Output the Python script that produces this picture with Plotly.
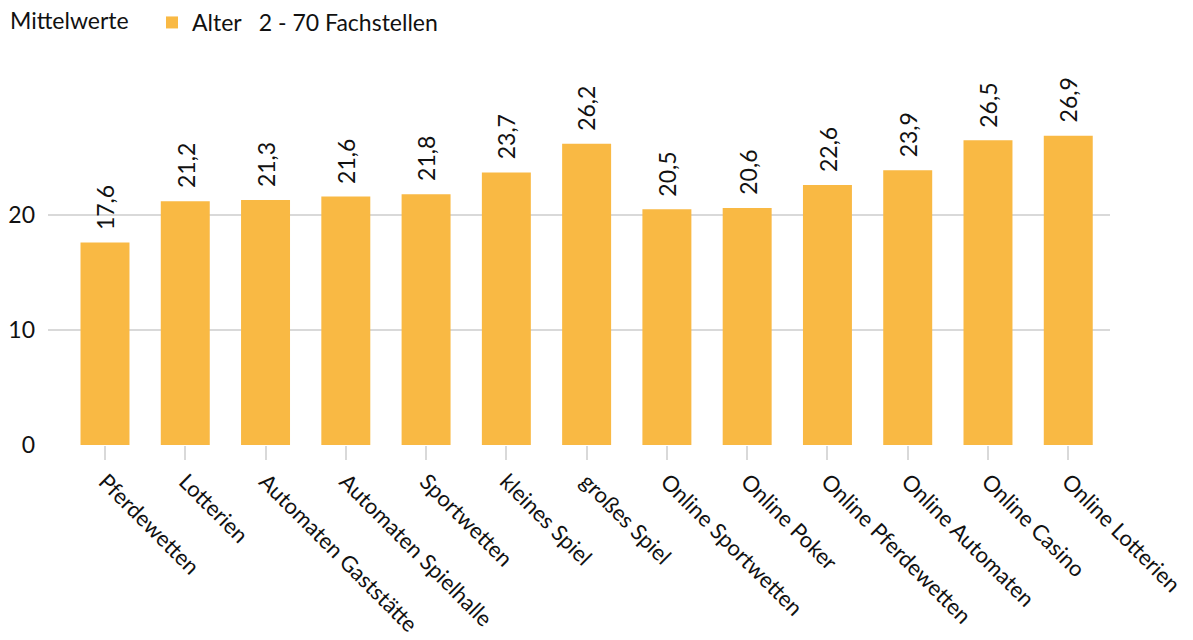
import plotly.graph_objects as go

# Gambling forms and mean age values
categories = [
    "Pferdewetten", "Lotterien", "Automaten Gaststätte", "Automaten Spielhalle",
    "Sportwetten", "kleines Spiel", "großes Spiel", "Online Sportwetten",
    "Online Poker", "Online Pferdewetten", "Online Automaten", "Online Casino",
    "Online Lotterien",
]
values = [17.6, 21.2, 21.3, 21.6, 21.8, 23.7, 26.2, 20.5, 20.6, 22.6, 23.9, 26.5, 26.9]
series_name = "Alter\u00a0\u00a0 2 - 70 Fachstellen"
y_ticks = [0, 10, 20]

FONT = "Lato, 'Open Sans', sans-serif"
FS = 23
BAR_COLOR = "#F9B944"
GRID = "#D9D9D9"
TEXT = "#111111"

labels = [f"{v:.1f}".replace(".", ",") for v in values]
xs = list(range(len(categories)))

fig = go.Figure()
fig.add_trace(go.Bar(
    x=xs,
    y=values,
    name=series_name,
    marker=dict(color=BAR_COLOR, line=dict(width=0)),
    width=0.61,
    showlegend=True,
))

# value labels above each bar, rotated
for x, v, lab in zip(xs, values, labels):
    fig.add_annotation(
        x=x, y=v, text=lab, textangle=-90, showarrow=False,
        xanchor="center", yanchor="bottom", yshift=11,
        font=dict(family=FONT, size=FS, color=TEXT),
    )

fig.add_annotation(
    xref="paper", yref="paper", x=-40 / 1062, y=1 + 80 / 345,
    xanchor="left", yanchor="middle", text="Mittelwerte", showarrow=False,
    font=dict(family=FONT, size=FS, color=TEXT),
)

fig.update_layout(
    width=1193, height=640,
    margin=dict(l=48, r=83, t=100, b=195, autoexpand=False),
    paper_bgcolor="white", plot_bgcolor="white",
    font=dict(family=FONT, size=FS, color=TEXT),
    bargap=0.39,
    legend=dict(
        orientation="h", xref="container", yref="container",
        x=152 / 1193, y=1 - 1 / 640, xanchor="left", yanchor="top",
        font=dict(family=FONT, size=FS, color=TEXT),
        itemwidth=30, bgcolor="rgba(0,0,0,0)",
    ),
    xaxis=dict(
        range=[-0.71, 12.52], automargin=False,
        tickmode="array", tickvals=xs, ticktext=categories,
        tickangle=45, ticks="outside", ticklen=14, tickwidth=2, tickcolor=GRID,
        showgrid=False, zeroline=False, showline=False,
        tickfont=dict(family=FONT, size=22, color=TEXT),
    ),
    yaxis=dict(
        range=[0, 30], automargin=False,
        tickmode="array", tickvals=y_ticks, ticktext=[str(t) for t in y_ticks],
        showgrid=True, gridcolor=GRID, gridwidth=2,
        zeroline=False, showline=False, ticks="",
        ticklabelstandoff=12,
        tickfont=dict(family=FONT, size=FS, color=TEXT),
    ),
)

fig.write_html("out.html")
